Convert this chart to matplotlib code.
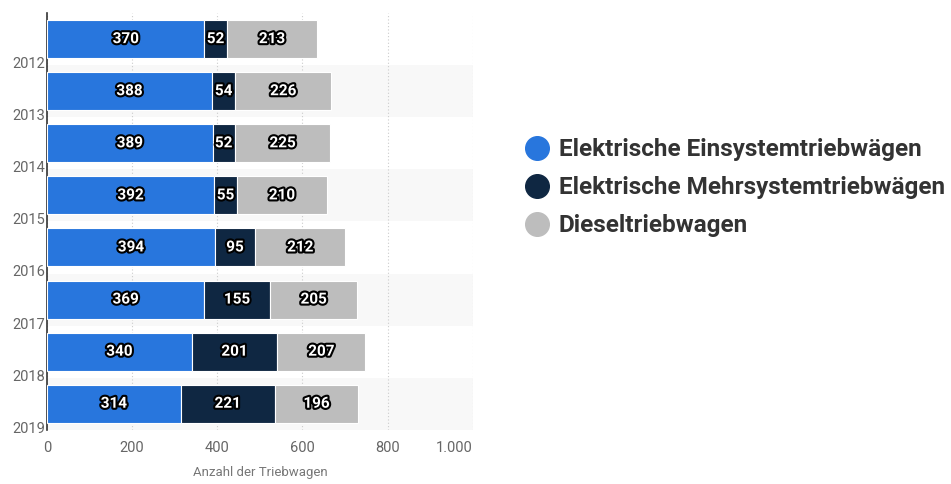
import matplotlib.pyplot as plt
import matplotlib.patheffects as pe
import numpy as np

years = ['2012', '2013', '2014', '2015', '2016', '2017', '2018', '2019']
einsystem = [370, 388, 389, 392, 394, 369, 340, 314]
mehrsystem = [52, 54, 52, 55, 95, 155, 201, 221]
diesel = [213, 226, 225, 210, 212, 205, 207, 196]
series_names = ['Elektrische Einsystemtriebwägen', 'Elektrische Mehrsystemtriebwägen', 'Dieseltriebwagen']
colors = ['#2876dd', '#0f2742', '#bdbdbd']

plt.rcParams['font.family'] = ['Roboto', 'DejaVu Sans']

fig = plt.figure(figsize=(9.51, 4.84), dpi=100)
ax = fig.add_axes([0.0494, 0.112, 0.4476, 0.861])

y = np.arange(len(years))

# alternating row shading
for i in y:
    if i % 2 == 1:
        ax.axhspan(i - 0.5, i + 0.5, color='#f8f8f8', zorder=0, lw=0)

left = np.zeros(len(years))
for vals, col, name in zip([einsystem, mehrsystem, diesel], colors, series_names):
    vals = np.array(vals)
    ax.barh(y, vals, left=left, height=0.73, color=col, edgecolor='white', linewidth=0.8, zorder=3, label=name)
    for yi, l, v in zip(y, left, vals):
        t = ax.text(l + v / 2, yi, str(v), ha='center', va='center', color='white',
                    fontsize=11, fontweight='bold', zorder=4)
        t.set_path_effects([pe.withStroke(linewidth=3, foreground='black')])
    left = left + vals

ax.set_xlim(0, 1000)
ax.set_ylim(len(years) - 0.5, -0.5)
ax.set_xticks([0, 200, 400, 600, 800, 1000])
ax.set_xticklabels(['0', '200', '400', '600', '800', '1.000'])
ax.get_xticklabels()[-1].set_horizontalalignment('right')
ax.set_yticks(y + 0.45)
ax.set_yticklabels(years)
ax.tick_params(axis='both', length=0, labelsize=10.5, labelcolor='#666666')
ax.tick_params(axis='y', pad=1)
ax.tick_params(axis='x', pad=8)
ax.grid(axis='x', color='#cccccc', linestyle=(0, (1, 2)), linewidth=0.8, zorder=1)
for s in ['top', 'right', 'bottom']:
    ax.spines[s].set_visible(False)
ax.spines['left'].set_color('#333333')
ax.spines['left'].set_linewidth(1.2)
ax.set_xlabel('Anzahl der Triebwagen', fontsize=9.5, color='#777777', labelpad=8)

handles = [plt.Line2D([], [], marker='o', linestyle='', markersize=17, color=c) for c in colors]
fig.legend(handles, series_names, loc='center left', bbox_to_anchor=(0.529, 0.612),
           frameon=False, handlelength=1.0, handletextpad=0.4, labelspacing=0.62,
           prop={'weight': 'bold', 'size': 17.5})
for t in fig.legends[0].get_texts():
    t.set_color('#333333')

fig.savefig('out.png', dpi=100)
